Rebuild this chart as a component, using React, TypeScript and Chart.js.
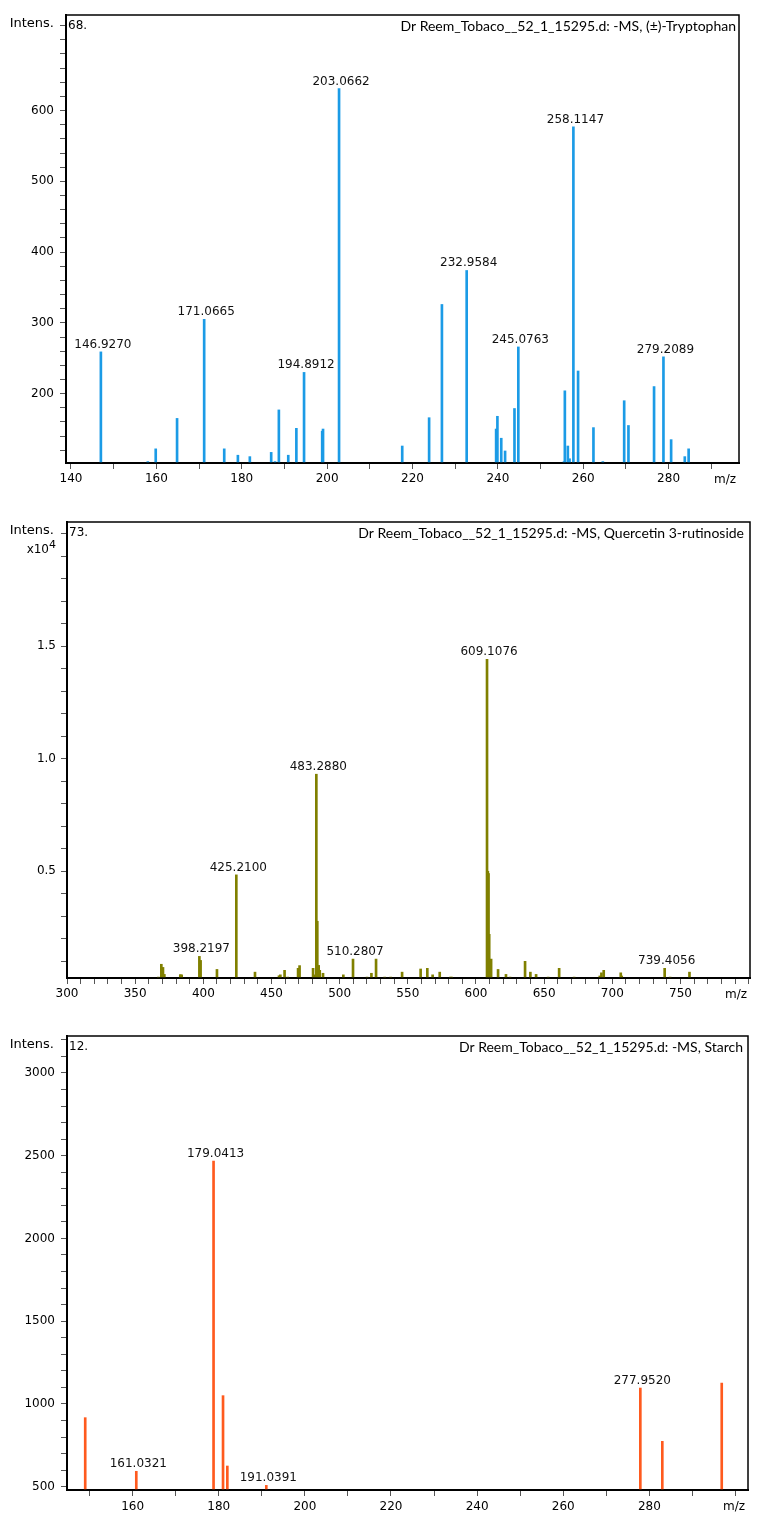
import React, { useEffect, useRef } from "react";
import { Chart, registerables } from "chart.js";
Chart.register(...registerables);

const FONT = '"DejaVu Sans", Verdana, sans-serif';
const TITLE_FONT = 'Lato, "Open Sans", sans-serif';

// ---------- Panel 1: (±)-Tryptophan ----------
const trpMz = [
  147.0, 158.0, 159.85, 164.85, 171.2, 175.9, 179.1, 181.9, 186.9, 187.8, 188.7, 190.9, 192.8,
  194.6, 198.85, 199.05, 202.8, 217.6, 223.9, 226.9, 232.7, 239.6, 239.9, 240.8, 241.7, 243.9,
  244.8, 255.5, 255.7, 256.4, 256.8, 257.7, 258.8, 262.4, 264.6, 269.6, 270.6, 276.6, 278.8,
  280.6, 283.8, 284.7,
];
const trpIntensity = [
  259, 104, 122, 165, 305, 122, 113, 111, 117, 104, 177, 113, 151,
  230, 147, 150, 631, 126, 166, 326, 374, 150, 168, 137, 119, 179,
  266, 104, 204, 126, 108, 577, 232, 152, 104, 190, 155, 210, 252,
  135, 111, 122,
];
const trpLabels = [
  "146.9270", "", "", "", "171.0665", "", "", "", "", "", "", "", "",
  "194.8912", "", "", "203.0662", "", "", "", "232.9584", "", "", "", "", "",
  "245.0763", "", "", "", "", "258.1147", "", "", "", "", "", "", "279.2089",
  "", "", "",
];

// ---------- Panel 2: Quercetin 3-rutinoside ----------
const queMz = [
  367.0, 369.2, 370.4, 371.4, 383.1, 384.1, 397.1, 398.0, 410.0, 424.2, 437.9, 455.5, 456.5,
  459.6, 461.9, 469.5, 470.6, 480.5, 481.4, 482.4, 482.9, 483.6, 484.6, 485.4, 487.8, 502.7,
  509.8, 520.1, 523.3, 526.7, 533.0, 537.4, 545.8, 559.4, 564.3, 568.2, 573.4, 581.2, 582.2,
  608.1, 608.7, 609.2, 609.7, 611.1, 616.2, 622.0, 625.0, 636.0, 639.9, 644.1, 652.9, 661.0,
  672.0, 690.8, 692.0, 693.7, 706.2, 706.9, 738.4, 742.4, 756.6,
];
const queIntensity = [
  300, 870, 730, 420, 410, 400, 1220, 1040, 640, 4840, 520, 360, 400,
  600, 300, 690, 810, 690, 400, 300, 9310, 2780, 820, 600, 470, 400,
  1100, 300, 470, 1100, 300, 300, 520, 660, 690, 400, 520, 300, 300,
  14410, 5000, 4900, 2200, 1100, 640, 420, 300, 1000, 520, 420, 300, 690,
  300, 350, 490, 600, 490, 350, 690, 300, 520,
];
const queLabels = [
  "", "", "", "", "", "", "398.2197", "", "", "425.2100", "", "", "",
  "", "", "", "", "", "", "", "483.2880", "", "", "", "", "",
  "510.2807", "", "", "", "", "", "", "", "", "", "", "", "",
  "609.1076", "", "", "", "", "", "", "", "", "", "", "", "",
  "", "", "", "", "", "", "739.4056", "", "",
];

// ---------- Panel 3: Starch ----------
const staMz = [149.0, 160.86, 178.8, 181.0, 182.0, 191.05, 277.9, 283.0, 296.8];
const staIntensity = [917, 593, 2467, 1050, 625, 508, 1096, 774, 1126];
const staLabels = ["", "161.0321", "179.0413", "", "", "191.0391", "277.9520", "", ""];

type PanelCfg = {
  key: string;
  top: number;
  height: number;
  plotLeft: number;
  plotTop: number;
  plotRight: number;
  plotBottom: number;
  mz: number[];
  intensity: number[];
  labels: string[];
  color: string;
  barWidth: number;
  xMin: number;
  xMax: number;
  xStep: number;
  xMajor: number;
  xLabelMax: number;
  xPad: number;
  yMin: number;
  yMax: number;
  yStep: number;
  yMajor: number;
  yLabelMax: number;
  yDiv: number;
  yDecimals: number;
  yPad: number;
  number: string;
  title: string;
  titleRight: number;
  titleY: number;
  intensY: number;
  showExp: boolean;
  mzX: number;
  mzY: number;
};

const panels: PanelCfg[] = [
  {
    key: "trp", top: 0, height: 500, plotLeft: 66, plotTop: 15, plotRight: 739, plotBottom: 463,
    mz: trpMz, intensity: trpIntensity, labels: trpLabels, color: "#1b9be6", barWidth: 2,
    xMin: 138.83, xMax: 296.5, xStep: 10, xMajor: 20, xLabelMax: 280, xPad: 3,
    yMin: 102, yMax: 735, yStep: 20, yMajor: 100, yLabelMax: 600, yDiv: 1, yDecimals: 0, yPad: 6,
    number: "68.", title: "Dr Reem_Tobaco__52_1_15295.d: -MS, (\u00b1)-Tryptophan",
    titleRight: 736, titleY: 26, intensY: 24, showExp: false, mzX: 725, mzY: 480,
  },
  {
    key: "que", top: 500, height: 510, plotLeft: 67, plotTop: 22, plotRight: 750, plotBottom: 478,
    mz: queMz, intensity: queIntensity, labels: queLabels, color: "#808000", barWidth: 2,
    xMin: 300, xMax: 801, xStep: 10, xMajor: 50, xLabelMax: 750, xPad: 3,
    yMin: 260, yMax: 20510, yStep: 1000, yMajor: 5000, yLabelMax: 15000, yDiv: 10000, yDecimals: 1, yPad: 5,
    number: "73.", title: "Dr Reem_Tobaco__52_1_15295.d: -MS, Quercetin 3-rutinoside",
    titleRight: 744, titleY: 33, intensY: 31, showExp: true, mzX: 736, mzY: 995,
  },
  {
    key: "sta", top: 1010, height: 511, plotLeft: 67, plotTop: 26, plotRight: 748, plotBottom: 480,
    mz: staMz, intensity: staIntensity, labels: staLabels, color: "#ff5a1e", barWidth: 2,
    xMin: 144.77, xMax: 302.9, xStep: 10, xMajor: 20, xLabelMax: 280, xPad: 4,
    yMin: 480, yMax: 3223, yStep: 100, yMajor: 500, yLabelMax: 3000, yDiv: 1, yDecimals: 0, yPad: 6,
    number: "12.", title: "Dr Reem_Tobaco__52_1_15295.d: -MS, Starch",
    titleRight: 743, titleY: 37, intensY: 35, showExp: false, mzX: 734, mzY: 1507,
  },
];

function isMultiple(v: number, m: number) {
  const r = Math.abs(v / m - Math.round(v / m));
  return r < 1e-6;
}

function buildTicks(min: number, max: number, step: number) {
  const out: { value: number }[] = [];
  const start = Math.ceil(min / step - 1e-9);
  for (let k = start; k * step <= max + 1e-9; k++) {
    out.push({ value: +(k * step).toFixed(6) });
  }
  return out;
}

function makeOverlay(p: PanelCfg) {
  return {
    id: "overlay_" + p.key,
    afterDatasetsDraw(chart: any) {
      const { ctx, scales } = chart;
      ctx.save();
      ctx.font = `12px ${FONT}`;
      ctx.fillStyle = "#111";
      ctx.textAlign = "center";
      ctx.textBaseline = "alphabetic";
      p.mz.forEach((m, i) => {
        const t = p.labels[i];
        if (!t) return;
        const x = scales.x.getPixelForValue(m);
        const y = scales.y.getPixelForValue(p.intensity[i]);
        ctx.fillText(t, x + 2, y - 4);
      });
      ctx.restore();
    },
    afterDraw(chart: any) {
      const { ctx, chartArea: a } = chart;
      ctx.save();
      ctx.strokeStyle = "#000";
      ctx.lineWidth = 1.5;
      ctx.strokeRect(a.left, a.top, a.right - a.left, a.bottom - a.top);

      ctx.fillStyle = "#000";
      ctx.textBaseline = "middle";
      ctx.font = `13px ${FONT}`;
      ctx.textAlign = "right";
      ctx.fillText("Intens.", 54, p.intensY);
      if (p.showExp) {
        ctx.font = `11px ${FONT}`;
        const supW = ctx.measureText("4").width;
        ctx.font = `12px ${FONT}`;
        ctx.textAlign = "right";
        ctx.fillText("x10", 56 - supW, p.intensY + 19);
        ctx.font = `11px ${FONT}`;
        ctx.textAlign = "left";
        ctx.fillText("4", 56 - supW, p.intensY + 14);
      }
      ctx.font = `12px ${FONT}`;
      ctx.textAlign = "left";
      ctx.fillText(p.number, a.left + 2, p.titleY);
      ctx.font = `14px ${TITLE_FONT}`;
      ctx.textAlign = "right";
      ctx.fillText(p.title, p.titleRight, p.titleY);
      ctx.font = `12px ${FONT}`;
      ctx.textAlign = "center";
      ctx.fillText("m/z", p.mzX, p.mzY - p.top);
      ctx.restore();
    },
  };
}

function Panel({ p }: { p: PanelCfg }) {
  const ref = useRef<HTMLCanvasElement>(null);
  useEffect(() => {
    if (!ref.current) return;
    const chart = new Chart(ref.current, {
      type: "bar",
      data: {
        datasets: [
          {
            data: p.mz.map((m, i) => ({ x: m, y: p.intensity[i] })),
            backgroundColor: p.color,
            borderWidth: 0,
            barThickness: p.barWidth,
            base: p.yMin,
            grouped: false,
            clip: 0,
          } as any,
        ],
      },
      options: {
        animation: false,
        responsive: false,
        maintainAspectRatio: false,
        layout: {
          padding: { top: p.plotTop, right: 762 - p.plotRight, left: 0, bottom: 0 },
        },
        plugins: {
          legend: { display: false },
          tooltip: { enabled: false },
          title: { display: false },
        },
        scales: {
          x: {
            type: "linear",
            offset: false,
            min: p.xMin,
            max: p.xMax,
            afterBuildTicks: (s: any) => {
              s.ticks = buildTicks(p.xMin, p.xMax, p.xStep);
            },
            afterFit: (s: any) => {
              s.height = p.height - p.plotBottom;
            },
            border: { display: true, color: "#000", width: 2 },
            grid: {
              offset: false,
              drawOnChartArea: false,
              drawTicks: true,
              tickLength: 6,
              tickColor: "#555",
              tickWidth: 1,
            },
            ticks: {
              autoSkip: false,
              maxRotation: 0,
              padding: p.xPad,
              color: "#000",
              font: { family: FONT, size: 12 },
              callback: (v: any) => {
                const n = Number(v);
                return isMultiple(n, p.xMajor) && n <= p.xLabelMax ? String(n) : "";
              },
            },
          },
          y: {
            type: "linear",
            min: p.yMin,
            max: p.yMax,
            afterBuildTicks: (s: any) => {
              s.ticks = buildTicks(p.yMin, p.yMax, p.yStep);
            },
            afterFit: (s: any) => {
              s.width = p.plotLeft;
            },
            border: { display: true, color: "#000", width: 2 },
            grid: {
              drawOnChartArea: false,
              drawTicks: true,
              tickLength: 6,
              tickColor: "#555",
              tickWidth: 1,
            },
            ticks: {
              autoSkip: false,
              padding: p.yPad,
              color: "#000",
              font: { family: FONT, size: 12 },
              callback: (v: any) => {
                const n = Number(v);
                return isMultiple(n, p.yMajor) && n <= p.yLabelMax
                  ? (n / p.yDiv).toFixed(p.yDecimals)
                  : "";
              },
            },
          },
        },
      } as any,
      plugins: [makeOverlay(p)],
    });
    return () => chart.destroy();
  }, [p]);
  return (
    <div style={{ position: "absolute", left: 0, top: p.top, width: 762, height: p.height }}>
      <canvas ref={ref} width={762} height={p.height} style={{ width: 762, height: p.height, display: "block" }} />
    </div>
  );
}

export default function App() {
  return (
    <div style={{ position: "absolute", left: 0, top: 0, width: 762, height: 1521, background: "#fff" }}>
      {panels.map((p) => (
        <Panel key={p.key} p={p} />
      ))}
    </div>
  );
}
